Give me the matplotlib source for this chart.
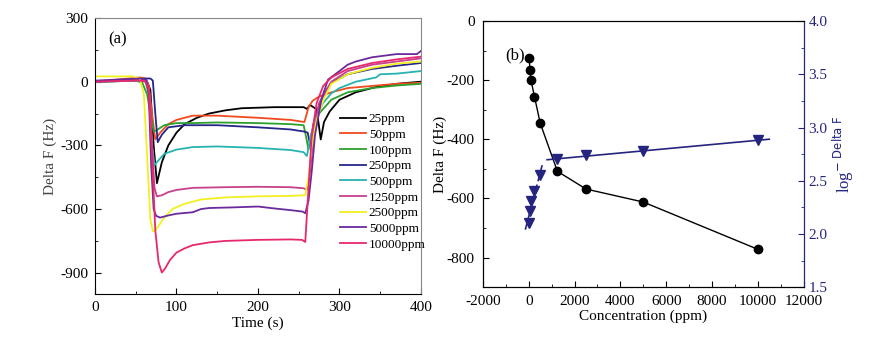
import matplotlib
matplotlib.use("Agg")
import matplotlib.pyplot as plt
import numpy as np
from matplotlib.ticker import MultipleLocator

plt.rcParams['font.family'] = ['Liberation Serif', 'DejaVu Serif']
plt.rcParams['mathtext.fontset'] = 'dejavusans'
plt.rcParams['axes.unicode_minus'] = False

# ---- panel (a): frequency response vs time, key points
labels = ["25ppm", "50ppm", "100ppm", "250ppm", "500ppm",
          "1250ppm", "2500ppm", "5000ppm", "10000ppm"]
colors = ["#000000", "#f04a1e", "#2ca02c", "#26268a", "#26b4b0",
          "#c8408c", "#f2f020", "#6a2a9c", "#e8286e"]

t_25 = [0, 60, 64, 68, 72, 76, 82, 90, 100, 110, 125, 140, 160, 180, 220, 256, 260, 264, 272, 277, 281, 288, 300, 320, 345, 370, 400]
v_25 = [0, 5, 0, -40, -300, -478, -380, -300, -240, -200, -170, -150, -135, -125, -120, -120, -128, -110, -130, -272, -190, -140, -85, -50, -25, -10, 0]

t_50 = [0, 55, 62, 66, 70, 74, 80, 90, 100, 120, 150, 200, 240, 257, 262, 267, 275, 290, 310, 340, 370, 400]
v_50 = [0, 20, 15, -20, -150, -272, -240, -200, -180, -160, -160, -170, -180, -190, -120, -90, -70, -50, -30, -20, -10, -5]

t_100 = [0, 50, 58, 64, 68, 72, 75, 85, 100, 120, 150, 200, 240, 256, 259, 262, 266, 275, 290, 310, 340, 370, 400]
v_100 = [0, 5, -5, -60, -150, -234, -230, -205, -195, -195, -192, -195, -200, -205, -260, -320, -250, -150, -85, -50, -30, -18, -10]

t_250 = [0, 50, 62, 68, 71, 74, 77, 82, 90, 110, 150, 200, 240, 257, 261, 264, 268, 275, 282, 290, 310, 340, 370, 400]
v_250 = [0, 10, 15, 15, 5, -150, -285, -250, -215, -205, -205, -215, -225, -235, -240, -300, -200, -110, -50, -5, 35, 60, 75, 88]

t_500 = [0, 55, 62, 66, 70, 73, 78, 85, 100, 120, 150, 200, 240, 256, 260, 265, 272, 280, 290, 300, 320, 345, 350, 370, 400]
v_500 = [0, 5, 0, -60, -300, -393, -370, -340, -320, -308, -305, -312, -322, -332, -350, -250, -160, -100, -55, -30, 0, 20, 35, 38, 50]

t_1250 = [0, 55, 63, 67, 70, 73, 76, 82, 90, 100, 120, 160, 200, 240, 256, 260, 264, 268, 275, 290, 310, 340, 370, 400]
v_1250 = [0, 10, 5, -60, -300, -500, -540, -535, -520, -510, -500, -497, -495, -497, -502, -510, -420, -250, -100, 0, 50, 80, 95, 110]

t_2500 = [0, 45, 55, 60, 64, 68, 71, 74, 78, 85, 95, 110, 130, 160, 200, 240, 258, 262, 266, 272, 280, 290, 310, 340, 370, 400]
v_2500 = [25, 25, 15, -60, -350, -650, -705, -700, -680, -640, -600, -575, -555, -545, -540, -538, -535, -450, -300, -180, -90, -10, 35, 65, 85, 95]

t_5000 = [0, 55, 63, 66, 69, 72, 75, 80, 90, 100, 120, 130, 140, 170, 200, 220, 240, 255, 258, 262, 266, 270, 278, 286, 300, 310, 320, 340, 370, 395, 400]
v_5000 = [5, 15, 10, -60, -400, -600, -632, -640, -630, -622, -615, -600, -595, -592, -588, -597, -605, -612, -620, -560, -420, -250, -80, 10, 50, 80, 95, 115, 130, 130, 145]

t_10000 = [0, 55, 62, 66, 70, 74, 78, 82, 86, 92, 100, 110, 120, 140, 160, 200, 240, 254, 258, 262, 266, 272, 280, 290, 310, 340, 370, 400]
v_10000 = [0, 5, 0, -40, -350, -700, -850, -899, -880, -840, -805, -785, -770, -757, -750, -745, -743, -745, -755, -500, -250, -100, -20, 20, 60, 88, 105, 118]

series_t = [t_25, t_50, t_100, t_250, t_500, t_1250, t_2500, t_5000, t_10000]
series_v = [v_25, v_50, v_100, v_250, v_500, v_1250, v_2500, v_5000, v_10000]

# ---- panel (b): response vs concentration
conc = np.array([25, 50, 100, 250, 500, 1250, 2500, 5000, 10000])
delta_f = np.array([-125, -165, -200, -255, -345, -508, -568, -612, -772])
log_df = np.array([2.10, 2.22, 2.31, 2.40, 2.55, 2.70, 2.74, 2.78, 2.88])

fig = plt.figure(figsize=(8.91, 3.37), dpi=100)

ax1 = fig.add_axes([0.1066, 0.1276, 0.3659, 0.819])
for t, v, c, lab in zip(series_t, series_v, colors, labels):
    ax1.plot(t, v, color=c, lw=1.3, label=lab)
ax1.set_xlim(0, 400)
ax1.set_ylim(-1000, 300)
ax1.xaxis.set_major_locator(MultipleLocator(100))
ax1.xaxis.set_minor_locator(MultipleLocator(50))
ax1.yaxis.set_major_locator(MultipleLocator(300))
ax1.yaxis.set_minor_locator(MultipleLocator(150))
ax1.tick_params(which='both', direction='in', top=False, right=False, labelsize=11)
ax1.tick_params(which='major', length=4, pad=5)
ax1.tick_params(which='minor', length=2)
ax1.spines['right'].set_color('#888888')
ax1.spines['top'].set_color('#888888')
ax1.set_xlabel("Time (s)", fontsize=11, labelpad=2)
ax1.set_ylabel("Delta F (Hz)", fontsize=11, color='#444444', labelpad=2)
ax1.text(0.04, 0.95, "(a)", transform=ax1.transAxes, fontsize=12, va='top')
ax1.legend(loc='upper left', bbox_to_anchor=(0.735, 0.675), frameon=False,
           fontsize=9.5, handlelength=2.0, handletextpad=0.2, labelspacing=0.26,
           borderaxespad=0)

navy = '#25257f'
ax2 = fig.add_axes([0.542, 0.148, 0.360, 0.789])
ax2.plot(conc, delta_f, color='black', lw=1, marker='o', ms=6)
ax2.set_xlim(-2000, 12000)
ax2.set_ylim(-900, 0)
ax2.xaxis.set_major_locator(MultipleLocator(2000))
ax2.xaxis.set_minor_locator(MultipleLocator(1000))
ax2.yaxis.set_major_locator(MultipleLocator(200))
ax2.yaxis.set_minor_locator(MultipleLocator(100))
ax2.tick_params(which='both', direction='in', top=False, right=False, labelsize=11)
ax2.tick_params(which='major', length=4, pad=6)
ax2.tick_params(which='minor', length=2)
ax2.set_xlabel("Concentration (ppm)", fontsize=11, labelpad=1)
ax2.set_ylabel("Delta F (Hz)", fontsize=11, labelpad=0)
ax2.text(0.07, 0.9, "(b)", transform=ax2.transAxes, fontsize=12, va='top')

ax3 = ax2.twinx()
ax3.plot(conc, log_df, ls='none', marker='v', ms=7, color=navy)
# linear fits of the two regimes
p1 = np.polyfit(conc[:5], log_df[:5], 1)
x1 = np.array([-150, 620])
ax3.plot(x1, np.polyval(p1, x1), color=navy, lw=1.2, ls=(0, (4, 2)))
p2 = np.polyfit(conc[5:], log_df[5:], 1)
x2 = np.array([800, 10500])
ax3.plot(x2, np.polyval(p2, x2), color=navy, lw=1.2)
ax3.set_ylim(1.5, 4.0)
ax3.yaxis.set_major_locator(MultipleLocator(0.5))
ax3.yaxis.set_minor_locator(MultipleLocator(0.25))
ax3.tick_params(which='both', direction='in', colors=navy, labelsize=11)
ax3.tick_params(which='major', length=4)
ax3.tick_params(which='minor', length=2)
ax3.spines['right'].set_color(navy)
ax3.set_ylabel(r"log$^{-\ \mathsf{Delta\ F}}$", fontsize=12, color=navy, labelpad=2)

fig.savefig("out.png", dpi=100)
